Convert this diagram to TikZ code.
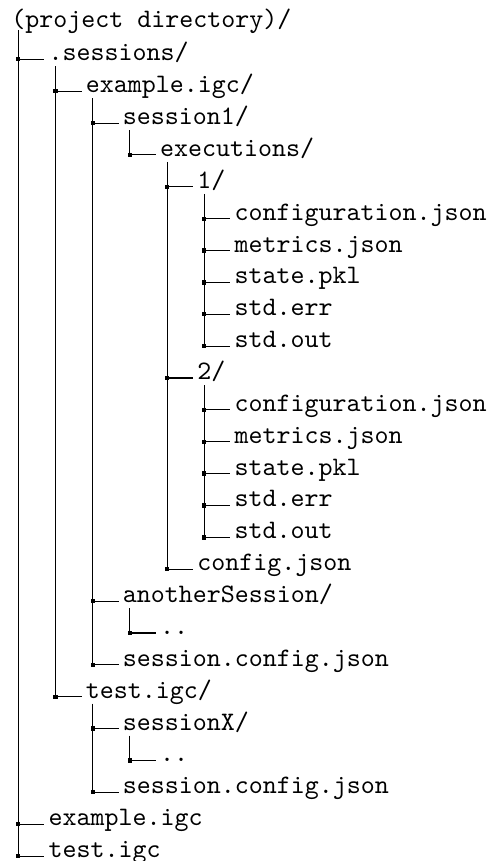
\documentclass[tikz,border=0pt]{standalone}
\usepackage{fontspec}
\begin{document}
% one unit = one pixel of a 489 x 861 canvas, y grows downwards
\tikzset{
  dtlabel/.style={anchor=base west, inner sep=0pt, outer sep=0pt, font=\ttfamily},
  dtline/.style={line width=0.4pt, black},
}
% \dtentry{row}{depth}{text}: label, branch stub and junction dot
\newcommand\dtentry[3]{%
  \pgfmathsetmacro\dtly{59.3+(#1-1)*31.87}%
  \pgfmathsetmacro\dtlx{18.3+37.2*(#2-1)}%
  \coordinate (j#1) at (\dtlx,\dtly);
  \node[dtlabel] (t#1) at (\dtlx+30.25,\dtly+1.5) {#3};
  \draw[dtline] (j#1) -- ++(26,0);
  \fill (j#1) +(-2.15,-2.15) rectangle +(2.15,2.15);
}
% \dtstem{parent}{last child}{gap}: vertical line of a directory
\newcommand\dtstem[3]{%
  \draw[dtline] (j#2 |- t#1.base) ++(0,#3) -- (j#2);
}
\begin{tikzpicture}[x=0.375pt, y=-0.375pt]
\useasboundingbox (0,0) rectangle (489,861);

\node[dtlabel] (t0) at (11.35,27.3) {(project directory)/};

\dtentry{1}{1}{.sessions/}
\dtentry{2}{2}{example.igc/}
\dtentry{3}{3}{session1/}
\dtentry{4}{4}{executions/}
\dtentry{5}{5}{1/}
\dtentry{6}{6}{configuration.json}
\dtentry{7}{6}{metrics.json}
\dtentry{8}{6}{state.pkl}
\dtentry{9}{6}{std.err}
\dtentry{10}{6}{std.out}
\dtentry{11}{5}{2/}
\dtentry{12}{6}{configuration.json}
\dtentry{13}{6}{metrics.json}
\dtentry{14}{6}{state.pkl}
\dtentry{15}{6}{std.err}
\dtentry{16}{6}{std.out}
\dtentry{17}{5}{config.json}
\dtentry{18}{3}{anotherSession/}
\dtentry{19}{4}{..}
\dtentry{20}{3}{session.config.json}
\dtentry{21}{2}{test.igc/}
\dtentry{22}{3}{sessionX/}
\dtentry{23}{4}{..}
\dtentry{24}{3}{session.config.json}
\dtentry{25}{1}{example.igc}
\dtentry{26}{1}{test.igc}

\dtstem{0}{26}{3}
\dtstem{1}{21}{5.5}
\dtstem{2}{20}{5.5}
\dtstem{3}{4}{5.5}
\dtstem{4}{17}{5.5}
\dtstem{5}{10}{5.5}
\dtstem{11}{16}{5.5}
\dtstem{18}{19}{5.5}
\dtstem{21}{24}{5.5}
\dtstem{22}{23}{5.5}
\end{tikzpicture}
\end{document}
